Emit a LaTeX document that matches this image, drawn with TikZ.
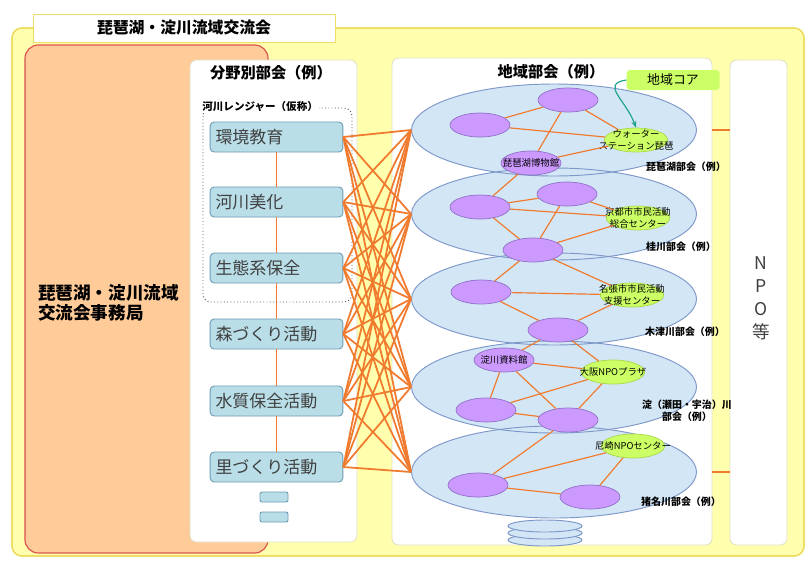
\documentclass[tikz,border=0pt]{standalone}
\usepackage{fontspec}
\setmainfont{Noto Sans CJK JP}
\usetikzlibrary{shapes.geometric, arrows.meta}
\definecolor{basinfill}{HTML}{FFFFAE}
\definecolor{basinstr}{HTML}{EEDD66}
\definecolor{officefill}{HTML}{FFCC99}
\definecolor{officestr}{HTML}{D9534F}
\definecolor{panelstr}{HTML}{E2E2C8}
\definecolor{fieldfill}{HTML}{B9DEE8}
\definecolor{fieldstr}{HTML}{6E9DB4}
\definecolor{regionfill}{HTML}{D3E6F6}
\definecolor{regionstr}{HTML}{7C97C8}
\definecolor{groupfill}{HTML}{CC99FF}
\definecolor{groupstr}{HTML}{8E72C6}
\definecolor{corefill}{HTML}{CCFF66}
\definecolor{corestr}{HTML}{A8D84A}
\definecolor{linkstr}{HTML}{F07A2E}
\definecolor{arrowstr}{HTML}{1FA38C}
\tikzset{
  basin/.style    ={rectangle, rounded corners=3mm, draw=basinstr, fill=basinfill, line width=1.5pt},
  office/.style   ={rectangle, rounded corners=4mm, draw=officestr, fill=officefill, line width=1pt},
  panel/.style    ={rectangle, rounded corners=2mm, draw=panelstr, fill=white, thick},
  fieldbox/.style ={rectangle, rounded corners=1.2mm, draw=fieldstr, fill=fieldfill, thick,
                    minimum height=9mm, text width=36.6mm, align=left, inner xsep=1.6mm,
                    text=black!75, font=\fontsize{14.5}{16}\selectfont},
  minibox/.style  ={rectangle, rounded corners=0.6mm, draw=fieldstr, fill=fieldfill, thick,
                    minimum width=8.4mm, minimum height=3mm, inner sep=0pt},
  region/.style   ={ellipse, draw=regionstr, thick, minimum width=85.5mm, minimum height=27.6mm, inner sep=0pt},
  tailring/.style ={ellipse, draw=regionstr, fill=regionfill, thick, minimum width=22.2mm, minimum height=3.6mm, inner sep=0pt},
  group/.style    ={ellipse, draw=groupstr, fill=groupfill, semithick, minimum width=18mm, minimum height=7.2mm, inner sep=0pt},
  core/.style     ={ellipse, draw=corestr, fill=corefill, semithick, minimum width=19mm, minimum height=7.2mm, inner sep=0pt},
  tag/.style      ={font=\fontsize{8}{10.5}\selectfont, align=center, inner sep=0pt},
  rlabel/.style   ={font=\bfseries\fontsize{8.5}{10.5}\selectfont, align=center, inner sep=0pt},
  ptitle/.style   ={font=\bfseries\fontsize{13}{15}\selectfont},
  link/.style     ={draw=linkstr, line width=1.5pt},
  inlink/.style   ={draw=linkstr, line width=1pt},
  corearrow/.style={-{Stealth[length=2mm]}, draw=arrowstr, line width=1pt},
}
\begin{document}
\begin{tikzpicture}[x=0.3mm, y=-0.3mm]
    \useasboundingbox (0,0) rectangle (808,563);
    % frame and office
    \node[basin, minimum width=237.6mm, minimum height=158.4mm] (basin) at (408,292) {};
    \node[rectangle, draw=basinstr, fill=white, minimum width=90.6mm, minimum height=8.4mm,
          font=\bfseries\fontsize{13.5}{15}\selectfont] (title) at (184,28) {琵琶湖・淀川流域交流会};
    \node[office, minimum width=72.9mm, minimum height=152.4mm] (office) at (146.5,299) {};
    \node[anchor=west, align=left, font=\bfseries\fontsize{15}{17}\selectfont] (officelbl) at (34,303) {琵琶湖・淀川流域\\交流会事務局};
    % panels
    \node[panel, minimum width=50.1mm, minimum height=144.6mm] (fpanel) at (273.5,301) {};
    \node[panel, minimum width=96mm, minimum height=146.1mm] (rpanel) at (552,301.5) {};
    \node[panel, minimum width=17.1mm, minimum height=145.5mm] (npo) at (758.5,302.5) {};
    \node[ptitle] (ftitle) at (271,73) {分野別部会（例）};
    \node[ptitle] (rtitle) at (551,72) {地域部会（例）};
    \node[font=\fontsize{15}{19.5}\selectfont, align=center, text=black!75] (npolbl) at (761,298) {N\\P\\O\\等};
    % field committees
    \node[fieldbox] (f1) at (276.5,137) {環境教育};
    \node[fieldbox] (f2) at (276.5,202) {河川美化};
    \node[fieldbox] (f3) at (276.5,268) {生態系保全};
    \node[fieldbox] (f4) at (276.5,334) {森づくり活動};
    \node[fieldbox] (f5) at (276.5,401) {水質保全活動};
    \node[fieldbox] (f6) at (276.5,467) {里づくり活動};
    \node[minibox] (m1) at (274,497) {};
    \node[minibox] (m2) at (274,517) {};
    \draw[link, line width=0.9pt] (f1) -- (f2);
    \draw[link, line width=0.9pt] (f2) -- (f3);
    \draw[link, line width=0.9pt] (f3) -- (f4);
    \draw[link, line width=0.9pt] (f4) -- (f5);
    \draw[link, line width=0.9pt] (f5) -- (f6);
    \draw[dotted, thick, draw=black!65, rounded corners=2.4mm] (203,108) rectangle (352,302);
    \node[anchor=west, fill=white, inner sep=1pt, font=\bfseries\fontsize{9}{10}\selectfont] (ranger) at (201,107) {河川レンジャー（仮称）};
    % regional committees
    \foreach \y in {130,214,299,387,472}
      \fill[regionfill] (554,\y) ellipse [x radius=42.75mm, y radius=13.8mm];
    \foreach \j/\y in {1/130,2/214,3/299,4/387,5/472}
      \node[region] (r\j) at (554,\y) {};
    \node[tailring] (t3) at (545,540) {};
    \node[tailring] (t2) at (545,533) {};
    \node[tailring] (t1) at (545,526) {};
    \foreach \i in {1,...,6}
      \foreach \j in {1,...,5}
        \draw[link] (f\i.east) -- (r\j.west);
    \draw[link] (rpanel.east |- r1.east) -- (npo.west |- r1.east);
    \draw[link] (rpanel.east |- r5.east) -- (npo.west |- r5.east);
    % groups inside the regions
    \node[group] (a1) at (568,100) {};
    \node[group] (a2) at (480,125) {};
    \node[core, label={[tag]center:ウォーター\\ステーション琵琶}] (a3) at (636,140) {};
    \node[group, label={[tag]center:琵琶湖博物館}] (a4) at (531,163) {};
    \node[group] (b1) at (480,207) {};
    \node[group] (b2) at (567,194) {};
    \node[core, label={[tag]center:京都市市民活動\\総合センター}] (b3) at (638,218) {};
    \node[group] (b4) at (533,250) {};
    \node[group] (c1) at (481,292) {};
    \node[core, label={[tag]center:名張市市民活動\\支援センター}] (c2) at (632,295) {};
    \node[group] (c3) at (558,330) {};
    \node[group, label={[tag]center:淀川資料館}] (d1) at (504,360) {};
    \node[core, label={[tag]center:大阪NPOプラザ}] (d2) at (613,372) {};
    \node[group] (d3) at (486,410) {};
    \node[group] (d4) at (568,420) {};
    \node[core, label={[tag]center:尼崎NPOセンター}] (e1) at (633,446) {};
    \node[group] (e2) at (478,485) {};
    \node[group] (e3) at (590,497) {};
    \draw[inlink] (a2) -- (a1);
    \draw[inlink] (a2) -- (a3);
    \draw[inlink] (a1) -- (a4);
    \draw[inlink] (a1) -- (a3);
    \draw[inlink] (a4) -- (a3);
    \draw[inlink] (a4) -- (b1);
    \draw[inlink] (b1) -- (b2);
    \draw[inlink] (b1) -- (b3);
    \draw[inlink] (b1) -- (b4);
    \draw[inlink] (b2) -- (b4);
    \draw[inlink] (b2) -- (b3);
    \draw[inlink] (b4) -- (b3);
    \draw[inlink] (b4) -- (c1);
    \draw[inlink] (b4) -- (c2);
    \draw[inlink] (c1) -- (c2);
    \draw[inlink] (c1) -- (c3);
    \draw[inlink] (c3) -- (c2);
    \draw[inlink] (c3) -- (d1);
    \draw[inlink] (c3) -- (d2);
    \draw[inlink] (d1) -- (d2);
    \draw[inlink] (d1) -- (d3);
    \draw[inlink] (d1) -- (d4);
    \draw[inlink] (d3) -- (d2);
    \draw[inlink] (d3) -- (d4);
    \draw[inlink] (d4) -- (d2);
    \draw[inlink] (d4) -- (e2);
    \draw[inlink] (e2) -- (e1);
    \draw[inlink] (e2) -- (e3);
    \draw[inlink] (e3) -- (e1);
    % region names
    \node[rlabel] (l1) at (686,167) {琵琶湖部会（例）};
    \node[rlabel] (l2) at (681,247) {桂川部会（例）};
    \node[rlabel] (l3) at (685,332) {木津川部会（例）};
    \node[rlabel] (l4) at (687,411) {淀（瀬田・宇治）川\\部会（例）};
    \node[rlabel] (l5) at (681,502) {猪名川部会（例）};
    % core callout
    \node[rectangle, rounded corners=1mm, fill=corefill, minimum width=27.9mm, minimum height=6mm,
          font=\fontsize{11}{13}\selectfont] (corelbl) at (673,80) {地域コア};
    \draw[corearrow] (corelbl.west) .. controls (600,84) and (626,100) .. (a3.north);
  \end{tikzpicture}
\end{document}
